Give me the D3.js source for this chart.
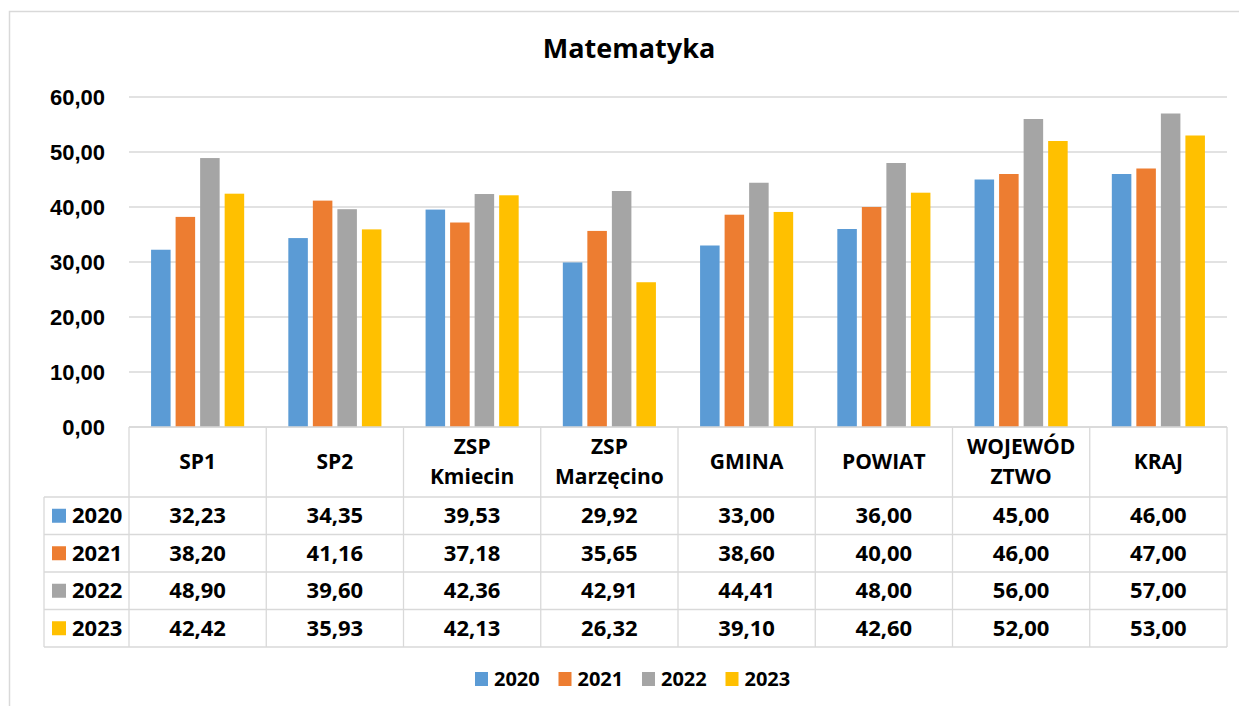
<!DOCTYPE html>
<html>
<head>
<meta charset="utf-8">
<script src="https://cdn.jsdelivr.net/npm/d3@7"></script>
<style>
  body { margin: 0; background: #fff; }
  svg { font-family: "Open Sans", sans-serif; font-weight: bold; }
</style>
</head>
<body>
<svg id="chart" width="1239" height="706"></svg>
<script>
// data
const categories = ['SP1', 'SP2', 'ZSP Kmiecin', 'ZSP Marzęcino', 'GMINA', 'POWIAT', 'WOJEWÓDZTWO', 'KRAJ'];
const categoryLines = [['SP1'], ['SP2'], ['ZSP', 'Kmiecin'], ['ZSP', 'Marzęcino'], ['GMINA'], ['POWIAT'], ['WOJEWÓD', 'ZTWO'], ['KRAJ']];
const years = ['2020', '2021', '2022', '2023'];
const values2020 = [32.23, 34.35, 39.53, 29.92, 33.00, 36.00, 45.00, 46.00];
const values2021 = [38.20, 41.16, 37.18, 35.65, 38.60, 40.00, 46.00, 47.00];
const values2022 = [48.90, 39.60, 42.36, 42.91, 44.41, 48.00, 56.00, 57.00];
const values2023 = [42.42, 35.93, 42.13, 26.32, 39.10, 42.60, 52.00, 53.00];
const yTicks = [0, 10, 20, 30, 40, 50, 60];
const colors = ['#5b9bd5', '#ed7d31', '#a5a5a5', '#ffc000'];

const series = [values2020, values2021, values2022, values2023];
const fmt = v => d3.format('.2f')(v).replace('.', ',');

const svg = d3.select('#chart');
const plotLeft = 129, plotRight = 1227, plotTop = 97, plotBottom = 427;
const headerBottom = 497, rowH = 37.5, tableLeft = 44;
const gridColor = '#d9d9d9';

// outer border
svg.append('rect')
  .attr('x', 9.5).attr('y', 11.5)
  .attr('width', 1260).attr('height', 720)
  .attr('fill', 'none').attr('stroke', gridColor).attr('stroke-width', 1.5);

// title
svg.append('text')
  .attr('x', 629).attr('y', 58)
  .attr('text-anchor', 'middle')
  .attr('font-size', 27)
  .text('Matematyka');

const x0 = d3.scaleBand().domain(categories).range([plotLeft, plotRight]).padding(0);
const x1 = d3.scaleBand().domain(years).range([0, x0.bandwidth()])
  .paddingInner(0.204).paddingOuter(0.9);
const y = d3.scaleLinear().domain([0, 60]).range([plotBottom, plotTop]);

// gridlines
svg.append('g')
  .selectAll('line')
  .data(yTicks)
  .join('line')
  .attr('x1', plotLeft).attr('x2', plotRight)
  .attr('y1', d => y(d)).attr('y2', d => y(d))
  .attr('stroke', gridColor).attr('stroke-width', 1.3);

// y axis labels
const yAxis = d3.axisLeft(y).tickValues(yTicks).tickFormat(fmt).tickSize(0).tickPadding(0);
const ya = svg.append('g').attr('transform', 'translate(105,0)').call(yAxis);
ya.select('.domain').remove();
ya.selectAll('text').attr('font-size', 22).attr('font-family', null).attr('fill', '#000');

// bars
const groups = svg.append('g')
  .selectAll('g')
  .data(categories)
  .join('g')
  .attr('transform', d => `translate(${x0(d)},0)`);

groups.selectAll('rect')
  .data((d, i) => years.map((yr, s) => ({ yr, s, v: series[s][i] })))
  .join('rect')
  .attr('x', d => x1(d.yr))
  .attr('width', x1.bandwidth())
  .attr('y', d => y(d.v))
  .attr('height', d => y(0) - y(d.v))
  .attr('fill', d => colors[d.s]);

// data table lines
const table = svg.append('g').attr('stroke', gridColor).attr('stroke-width', 1.3);
table.append('line')
  .attr('x1', plotLeft).attr('x2', plotRight)
  .attr('y1', plotBottom).attr('y2', plotBottom);
years.forEach((yr, r) => {
  const yy = headerBottom + r * rowH;
  table.append('line').attr('x1', tableLeft).attr('x2', plotRight).attr('y1', yy).attr('y2', yy);
});
const tableBottom = headerBottom + years.length * rowH;
table.append('line').attr('x1', tableLeft).attr('x2', plotRight).attr('y1', tableBottom).attr('y2', tableBottom);
table.append('line').attr('x1', tableLeft).attr('x2', tableLeft).attr('y1', headerBottom).attr('y2', tableBottom);
categories.concat([null]).forEach((c, i) => {
  const xx = c === null ? plotRight : x0(c);
  table.append('line').attr('x1', xx).attr('x2', xx).attr('y1', plotBottom).attr('y2', tableBottom);
});

// category headers
const headerMid = (plotBottom + headerBottom) / 2;
categories.forEach((c, i) => {
  const lines = categoryLines[i];
  const t = svg.append('text')
    .attr('x', x0(c) + x0.bandwidth() / 2)
    .attr('text-anchor', 'middle')
    .attr('font-size', 21);
  lines.forEach((ln, k) => {
    t.append('tspan')
      .attr('x', x0(c) + x0.bandwidth() / 2)
      .attr('y', headerMid + (k - (lines.length - 1) / 2) * 30)
      .attr('dy', '0.35em')
      .text(ln);
  });
});

// rows
years.forEach((yr, r) => {
  const cy = headerBottom + r * rowH + rowH / 2;
  svg.append('rect')
    .attr('x', 52).attr('y', cy - 7)
    .attr('width', 14).attr('height', 14)
    .attr('fill', colors[r]);
  svg.append('text')
    .attr('x', 72).attr('y', cy).attr('dy', '0.35em')
    .attr('font-size', 22)
    .text(yr);
  categories.forEach((c, i) => {
    svg.append('text')
      .attr('x', x0(c) + x0.bandwidth() / 2)
      .attr('y', cy).attr('dy', '0.35em')
      .attr('text-anchor', 'middle')
      .attr('font-size', 22)
      .text(fmt(series[r][i]));
  });
});

// legend
const legend = svg.append('g').attr('transform', 'translate(475,679)');
years.forEach((yr, i) => {
  const g = legend.append('g').attr('transform', `translate(${i * 83.5},0)`);
  g.append('rect').attr('x', 0).attr('y', -7).attr('width', 13).attr('height', 14).attr('fill', colors[i]);
  g.append('text').attr('x', 19).attr('y', 0).attr('dy', '0.35em').attr('font-size', 20).text(yr);
});
</script>
</body>
</html>
